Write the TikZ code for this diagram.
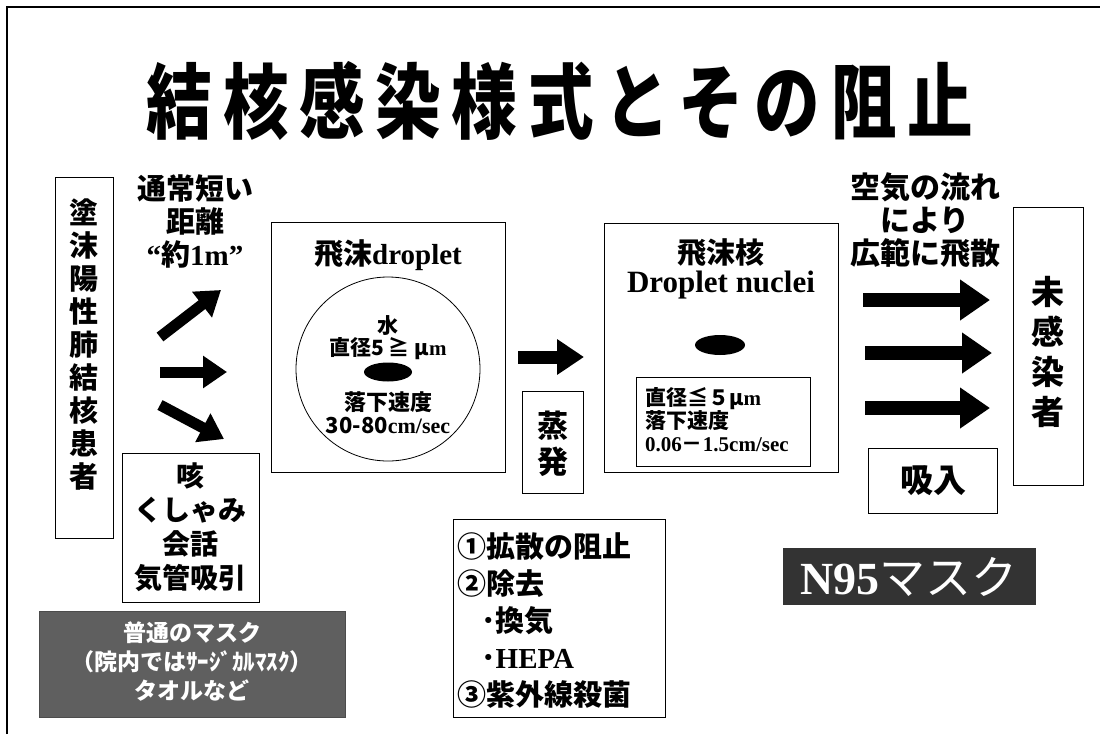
\documentclass[tikz,border=0pt]{standalone}
\usepackage{fontspec}
\setmainfont{Liberation Serif}
\newfontfamily\jp{Noto Sans CJK JP}
\newfontfamily\jptitle{Noto Sans CJK JP}[FakeStretch=0.8,LetterSpace=13]
\usetikzlibrary{arrows.meta,shapes.geometric}
\newcommand{\latn}[1]{{\rmfamily\bfseries #1}}
\newcommand{\fsz}[2]{\fontsize{#1}{#2}\selectfont}
\definecolor{maskgray}{HTML}{5F5F5F}
\definecolor{ndark}{HTML}{333333}
\tikzset{
  tbox/.style={draw=black, line width=1pt, inner sep=0pt},
  jtxt/.style={font=\jp\bfseries, align=center, inner sep=0pt},
  smallarr/.style={line width=11pt, -{Triangle[length=24pt,width=31pt]}},
  midarr/.style={line width=13pt, -{Triangle[length=27pt,width=34pt]}},
  bigarr/.style={line width=14pt, -{Triangle[length=30pt,width=39pt]}},
  blob/.style={ellipse, fill=black, inner sep=0pt}
}
\begin{document}
\begin{tikzpicture}[x=1pt,y=-1pt]
\useasboundingbox (0,0) rectangle (1100,734);
\fill[white] (0,0) rectangle (1100,734);
\draw[line width=1.5pt] (7,734) -- (7,7) -- (1100,7);

% title
\node[inner sep=0pt, font=\jptitle\bfseries\fsz{82}{86}] (title) at (560,101) {結核感染様式とその阻止};

% patient
\node[tbox, minimum width=58, minimum height=361] (patient) at (84,357.5) {};
\node[jtxt, font=\jp\bfseries\fsz{29}{33}] (patienttxt) at (84,345) {塗\\沫\\陽\\性\\肺\\結\\核\\患\\者};

% short distance
\node[jtxt, font=\jp\bfseries\fsz{29}{33}] (short) at (195,221) {通常短い\\距離\\\latn{“}約\latn{1m”}};

% left arrows
\coordinate (la1s) at (160,337); \coordinate (la1e) at (221,290);
\coordinate (la2s) at (160,372); \coordinate (la2e) at (227,372);
\coordinate (la3s) at (160,405); \coordinate (la3e) at (224,439);
\draw[smallarr] (la1s) -- (la1e);
\draw[smallarr] (la2s) -- (la2e);
\draw[smallarr] (la3s) -- (la3e);

% cough box
\node[tbox, minimum width=137, minimum height=149] (cough) at (190.5,527.5) {};
\node[jtxt, font=\jp\bfseries\fsz{28}{34}] (coughtxt) at (190.5,527) {咳\\くしゃみ\\会話\\気管吸引};

% ordinary mask
\node[fill=maskgray, draw=black!70, minimum width=306, minimum height=106, inner sep=0pt] (mask) at (192,664) {};
\node[jtxt, text=white, font=\jp\bfseries\fsz{23}{29}] (masktxt) at (192,662) {普通のマスク\\（院内ではｻｰｼﾞｶﾙﾏｽｸ）\\タオルなど};

% droplet
\node[tbox, minimum width=234, minimum height=250] (droplet) at (388,347) {};
\node[jtxt, font=\jp\bfseries\fsz{29}{33}] (droptitle) at (388,255) {飛沫\latn{droplet}};
\node[draw=black, line width=0.8pt, circle, minimum size=184, inner sep=0pt] (circ) at (388,369) {};
\node[jtxt, font=\jp\bfseries\fsz{21}{24}] (water) at (388,326) {水};
\node[jtxt, font=\jp\bfseries\fsz{21}{24}] (diam) at (388,349) {直径5 ≧ μ\latn{m}};
\node[blob, minimum width=48, minimum height=19] (drop) at (388,372) {};
\node[jtxt, font=\jp\bfseries\fsz{22}{24}] (fall) at (388,402) {落下速度};
\node[jtxt, font=\jp\bfseries\fsz{22}{24}] (speed) at (388,426) {30-80\latn{cm/sec}};

% evaporation arrow
\coordinate (mas) at (518,357); \coordinate (mae) at (584,357);
\draw[midarr] (mas) -- (mae);
\node[tbox, minimum width=61, minimum height=102] (evap) at (552.5,442) {};
\node[jtxt, font=\jp\bfseries\fsz{31}{36}] (evaptxt) at (552.5,444) {蒸\\発};

% nuclei
\node[tbox, minimum width=234, minimum height=249] (nuclei) at (721,347.5) {};
\node[jtxt, font=\jp\bfseries\fsz{29}{33}] (nuctitle) at (721,253) {飛沫核};
\node[jtxt, font=\rmfamily\bfseries\fsz{31}{33}] (nucname) at (721,285) {Droplet nuclei};
\node[blob, minimum width=50, minimum height=20] (nucdot) at (720,345) {};
\node[tbox, minimum width=174, minimum height=89] (nucinfo) at (723,421.5) {};
\node[inner sep=0pt, align=left, anchor=west, font=\jp\bfseries\fsz{21}{23}] (nucinfotxt) at (645,420) {直径≦５μ\latn{m}\\落下速度\\\latn{0.06}－\latn{1.5cm/sec}};

% airflow
\node[jtxt, font=\jp\bfseries\fsz{30}{33}] (air) at (925,220) {空気の流れ\\により\\広範に飛散};
\coordinate (ra1s) at (863,300); \coordinate (ra1e) at (990,300);
\coordinate (ra2s) at (865,353); \coordinate (ra2e) at (992,353);
\coordinate (ra3s) at (865,408); \coordinate (ra3e) at (990,408);
\draw[bigarr] (ra1s) -- (ra1e);
\draw[bigarr] (ra2s) -- (ra2e);
\draw[bigarr] (ra3s) -- (ra3e);

% uninfected
\node[tbox, minimum width=70, minimum height=278] (uninf) at (1048,346) {};
\node[jtxt, font=\jp\bfseries\fsz{33}{40}] (uninftxt) at (1048,352) {未\\感\\染\\者};

% inhale
\node[tbox, minimum width=129, minimum height=65] (inhale) at (933,480.5) {};
\node[jtxt, font=\jp\bfseries\fsz{33}{36}] (inhaletxt) at (933,481) {吸入};

% measures
\node[tbox, minimum width=212, minimum height=198] (measures) at (559,618) {};
\node[inner sep=0pt, align=left, anchor=west, font=\jp\bfseries\fsz{29}{37}] (meastxt) at (457,621) {①拡散の阻止\\②除去\\\hspace*{24pt}･換気\\\hspace*{24pt}･\latn{HEPA}\\③紫外線殺菌};

% N95
\node[fill=ndark, draw=black!80, minimum width=252, minimum height=56, inner sep=0pt] (n95) at (909,576) {};
\node[inner sep=0pt, text=white, font=\jp\fsz{46}{48}] (n95txt) at (909,577) {\latn{N95}マスク};
\end{tikzpicture}
\end{document}
